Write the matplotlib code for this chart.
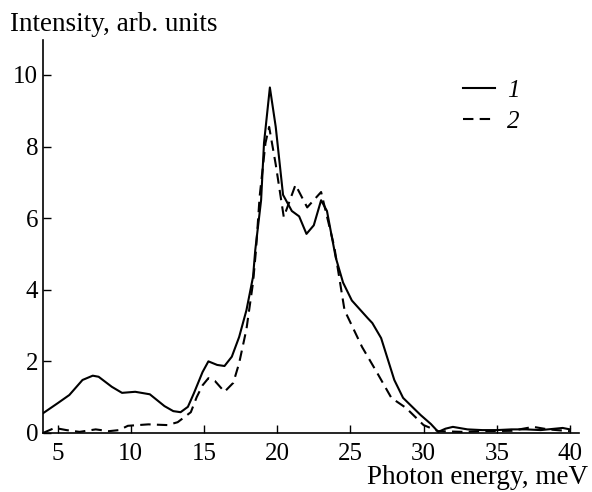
import matplotlib
matplotlib.use('Agg')
import matplotlib.pyplot as plt
from matplotlib.lines import Line2D

# curve 1 (solid)
x1 = [4, 5, 5.8, 6.7, 7.4, 7.8, 8.7, 9.4, 10.3, 11.3, 12.3, 12.9, 13.4, 13.9, 14.3,
      14.9, 15.3, 15.9, 16.4, 16.9, 17.4, 17.9, 18.35, 18.5, 18.9, 19.1, 19.5, 19.9,
      20.4, 21.0, 21.5, 22.0, 22.5, 23.0, 23.4, 24.0, 24.5, 25.1, 26.2, 26.5, 27.1,
      28.0, 28.6, 29.8, 30.5, 31.0, 31.5, 32.0, 33.0, 34.0, 35.0, 36.0, 37.0, 38.0,
      39.0, 39.5, 40.0]
y1 = [0.55, 0.83, 1.06, 1.48, 1.6, 1.57, 1.29, 1.12, 1.15, 1.08, 0.75, 0.61, 0.58, 0.73, 1.1,
      1.7, 2.0, 1.9, 1.87, 2.13, 2.68, 3.43, 4.36, 5.1, 6.5, 8.1, 9.65, 8.55,
      6.65, 6.2, 6.05, 5.56, 5.8, 6.5, 6.2, 4.9, 4.2, 3.7, 3.2, 3.07, 2.65,
      1.48, 0.98, 0.5, 0.25, 0.03, 0.12, 0.17, 0.1, 0.08, 0.08, 0.1, 0.1, 0.08,
      0.12, 0.14, 0.1]

# curve 2 (dashed)
x2 = [4, 4.8, 5.6, 6.5, 7.6, 8.5, 9.2, 9.8, 11.2, 12.5, 13.2, 14.1, 14.5, 14.9, 15.3,
      15.75, 16.4, 17.0, 17.4, 17.9, 18.35, 18.55, 18.8, 19.2, 19.45, 19.9, 20.45,
      21.25, 22.05, 23.0, 23.9, 24.6, 25.8, 26.8, 27.8, 28.8, 30.0, 31.0, 32.7,
      34.0, 36.0, 37.5, 38.5, 40.0]
y2 = [0.0, 0.14, 0.08, 0.03, 0.1, 0.05, 0.08, 0.2, 0.24, 0.22, 0.3, 0.58, 1.0, 1.33, 1.53,
      1.45, 1.15, 1.4, 1.95, 2.9, 4.2, 5.1, 6.6, 8.1, 8.55, 7.5, 6.03,
      6.93, 6.3, 6.73, 5.2, 3.43, 2.4, 1.7, 0.98, 0.7, 0.22, 0.05, 0.03,
      0.05, 0.06, 0.17, 0.1, 0.05]

plt.rcParams['font.family'] = 'Liberation Serif'
dash = (5, 3)

fig = plt.figure(figsize=(5.92, 4.92), dpi=100)
ax = fig.add_axes([0.0726, 0.12, 0.905, 0.799])

ax.plot(x1, y1, color='black', lw=1.5)
ax.plot(x2, y2, color='black', lw=1.5, dashes=dash)

ax.set_xlim(4, 40.6)
ax.set_ylim(0, 10.98)
ax.set_xticks([5, 10, 15, 20, 25, 30, 35, 40])
ax.set_yticks([0, 2, 4, 6, 8, 10])
ax.tick_params(direction='in', length=6, width=1, labelsize=18, colors='black')
ax.tick_params(axis='x', pad=7)
for s in ['top', 'right']:
    ax.spines[s].set_visible(False)
for s in ['left', 'bottom']:
    ax.spines[s].set_linewidth(1.2)

fig.text(0.017, 0.951, 'Intensity, arb. units', fontsize=19.5, va='center', ha='left')
fig.text(0.993, 0.03, 'Photon energy, meV', fontsize=19.5, va='center', ha='right')

handles = [Line2D([], [], color='black', lw=1.5),
           Line2D([], [], color='black', lw=1.5, dashes=dash)]
leg = ax.legend(handles, ['1', '2'], loc='upper left', bbox_to_anchor=(0.782, 0.838),
                bbox_transform=fig.transFigure, frameon=False, borderpad=0, borderaxespad=0,
                handlelength=1.3, handletextpad=0.45, labelspacing=0.33,
                prop={'style': 'italic', 'size': 18})

plt.savefig('out.png', dpi=100)
